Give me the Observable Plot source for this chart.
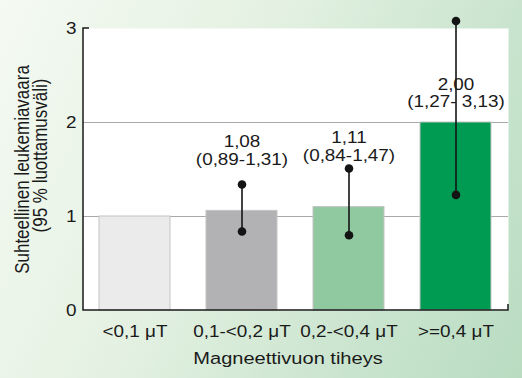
<!DOCTYPE html>
<html><head><meta charset="utf-8">
<script src="https://cdn.jsdelivr.net/npm/d3@7"></script>
<script src="https://cdn.jsdelivr.net/npm/@observablehq/plot@0.6"></script>
<style>
html,body{margin:0;padding:0;background:#fff;}
#chart{width:522px;height:378px;background:linear-gradient(115deg,#f5faf3 0%,#e4f1e2 40%,#c9e4ce 75%,#b9dcc1 100%);}
#chart svg{display:block;}
</style></head><body><div id="chart"></div>
<script>
const categories = ["<0,1 μT", "0,1-<0,2 μT", "0,2-<0,4 μT", ">=0,4 μT"];
const riskValues = [1.00, 1.06, 1.10, 2.00];
const ciLow = [null, 0.84, 0.80, 1.23];
const ciHigh = [null, 1.34, 1.51, 3.08];
const riskLabels = [null, "1,08", "1,11", "2,00"];
const ciLabels = [null, "(0,89-1,31)", "(0,84-1,47)", "(1,27- 3,13)"];
const yTicks = [0, 1, 2, 3];
const gridValues = [1, 2];
const yTitle1 = "Suhteellinen leukemiavaara";
const yTitle2 = "(95 % luottamusväli)";
const xTitle = "Magneettivuon tiheys";

const barColors = ["#ebebeb", "#b2b2b4", "#90c8a0", "#009b52"];

const data = categories.map((c, i) => ({
  category: c, value: riskValues[i], lo: ciLow[i], hi: ciHigh[i],
  label: riskLabels[i] ? riskLabels[i] + "\n" + ciLabels[i] : null
}));
const ci = data.filter(d => d.lo != null);

const plot = Plot.plot({
  width: 522, height: 378,
  marginLeft: 83, marginRight: 14, marginTop: 28, marginBottom: 68,
  style: {background: "transparent", fontFamily: "'Liberation Sans', Arial, sans-serif", fontSize: "16px", color: "#1a1a1a"},
  x: {domain: categories, paddingInner: 0.335, paddingOuter: 0.152, label: null},
  y: {domain: [0, 3], label: null},
  color: {domain: categories, range: barColors},
  marks: [
    Plot.frame({fill: "white", stroke: "none"}),
    Plot.ruleY(gridValues, {stroke: "#a9a9a9", strokeWidth: 1}),
    Plot.barY(data, {x: "category", y: "value", fill: "category", stroke: "#c4c4c4", strokeWidth: 1}),
    Plot.ruleX(ci, {x: "category", y1: "lo", y2: "hi", stroke: "#141414", strokeWidth: 1.6}),
    Plot.dot(ci, {x: "category", y: "lo", r: 4.3, fill: "#141414", stroke: "none"}),
    Plot.dot(ci, {x: "category", y: "hi", r: 4.3, fill: "#141414", stroke: "none"}),
    Plot.text(ci, {x: "category", y: d => d.value + (d.value > 1.5 ? 0.16 : 0.49), text: "label",
      lineAnchor: "bottom", lineHeight: 1.1, fontSize: 16, fill: "#1a1a1a"}),
    Plot.axisX({tickSize: 0, tickPadding: 15, fontSize: 16, label: null}),
    Plot.axisY({ticks: yTicks, tickFormat: d => String(d), tickSize: 0, tickPadding: 7, fontSize: 16, label: null}),
    Plot.text([yTitle1], {text: d => d, frameAnchor: "left", textAnchor: "middle", lineAnchor: "middle",
      rotate: -90, dx: -61, fontSize: 17, fill: "#1a1a1a"}),
    Plot.text([yTitle2], {text: d => d, frameAnchor: "left", textAnchor: "middle", lineAnchor: "middle",
      rotate: -90, dx: -43, dy: -14, fontSize: 17, fill: "#1a1a1a"}),
    Plot.text([xTitle], {text: d => d, frameAnchor: "bottom", textAnchor: "middle", lineAnchor: "bottom",
      dx: -8, dy: 53, fontSize: 17, fill: "#1a1a1a"})
  ]
});

const svg = d3.select(plot);
const xs = plot.scale("x"), ys = plot.scale("y");
const [x0, x1] = xs.range;
const [yb, yt] = ys.range;
svg.append("path")
  .attr("d", `M${x0 + 6},${yt}H${x0}V${yb}H${x1}V${yb - 6}`)
  .attr("fill", "none").attr("stroke", "#1a1a1a").attr("stroke-width", 1.5);
// the reference artwork is stretched horizontally; mimic by widening glyphs
const stretch = 1.18;
svg.selectAll("text").each(function () {
  const t = this.getAttribute("transform") || "";
  if (/rotate/.test(t)) this.setAttribute("transform", t + ` scale(1,${stretch})`);
  else if (t) this.setAttribute("transform", t + ` scale(${stretch},1)`);
});

document.getElementById("chart").appendChild(plot);
</script>
</body></html>
